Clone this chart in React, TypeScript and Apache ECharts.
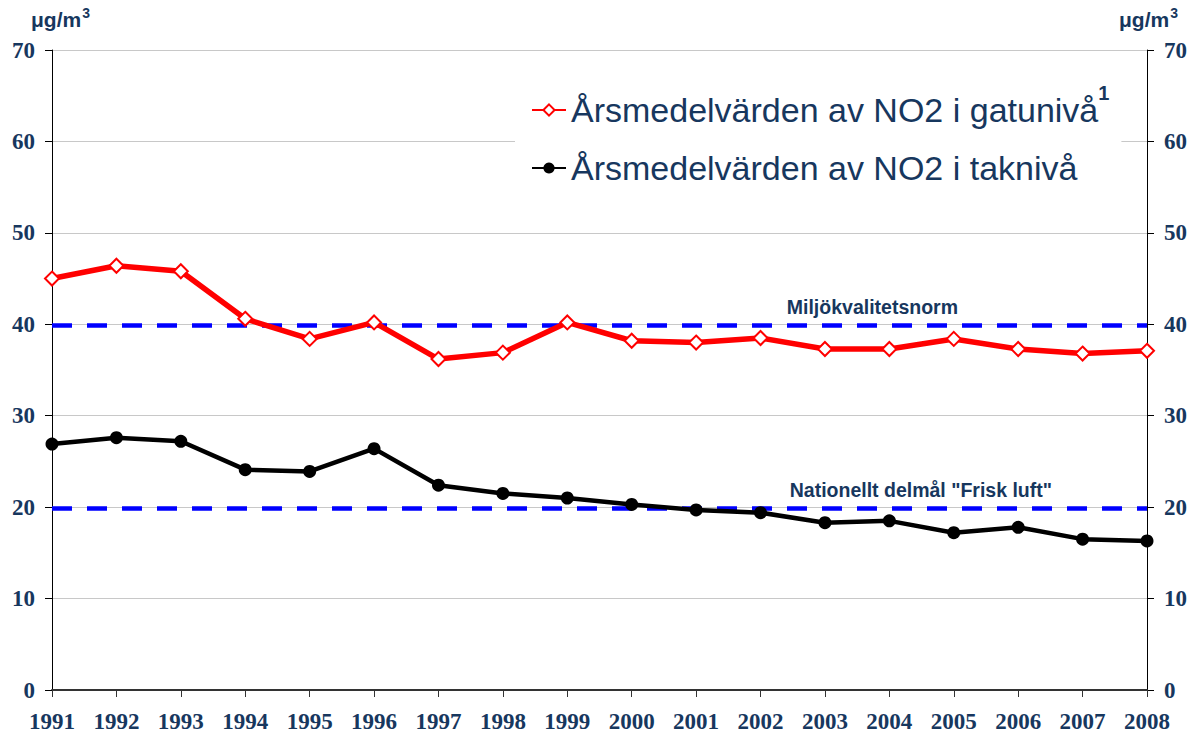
import React, { useEffect, useRef } from "react";
import * as echarts from "echarts";

const years = ["1991","1992","1993","1994","1995","1996","1997","1998","1999","2000","2001","2002","2003","2004","2005","2006","2007","2008"];
const streetLevel = [45.0, 46.4, 45.8, 40.6, 38.4, 40.2, 36.2, 36.9, 40.2, 38.2, 38.0, 38.5, 37.3, 37.3, 38.4, 37.3, 36.8, 37.1];
const roofLevel = [26.9, 27.6, 27.2, 24.1, 23.9, 26.4, 22.4, 21.5, 21.0, 20.3, 19.7, 19.4, 18.3, 18.5, 17.2, 17.8, 16.5, 16.3];
const streetName = "Årsmedelvärden av NO2 i gatunivå";
const roofName = "Årsmedelvärden av NO2 i taknivå";
const normValue = 39.9;
const normLabel = "Miljökvalitetsnorm";
const goalValue = 19.9;
const goalLabel = 'Nationellt delmål "Frisk luft"';
const unitLabel = "μg/m";

const NAVY = "#17375e";

export default function App() {
  const ref = useRef<HTMLDivElement>(null);
  useEffect(() => {
    const chart = echarts.init(ref.current!, undefined, { renderer: "svg" });
    const yAxisBase = {
      type: "value",
      min: 0,
      max: 70,
      interval: 10,
      axisLine: { show: true, lineStyle: { color: "#000", width: 1 } },
      axisTick: { show: true, length: 7, inside: false, lineStyle: { color: "#000" } },
      axisLabel: {
        color: NAVY,
        fontFamily: "Liberation Serif",
        fontWeight: "bold",
        fontSize: 23,
        margin: 17,
      },
    };
    const dashStyle = { color: "#0000ff", width: 4.5, type: [20, 15] as any };
    const mlLabel = {
      show: true,
      position: "insideEndTop",
      color: NAVY,
      fontFamily: "Liberation Sans",
      fontWeight: "bold",
      fontSize: 19.5,
    };
    const unitRich = {
      u: { fontFamily: "Liberation Sans", fontWeight: "bold", fontSize: 21, fill: NAVY },
      s: { fontFamily: "Liberation Sans", fontWeight: "bold", fontSize: 14, fill: NAVY, padding: [0, 0, 13, 1] },
    };
    chart.setOption({
      animation: false,
      backgroundColor: "#fff",
      grid: { left: 52, right: 48, top: 50, bottom: 47, containLabel: false },
      xAxis: {
        type: "category",
        data: years,
        boundaryGap: false,
        axisLine: { lineStyle: { color: "#333", width: 2 } },
        axisTick: { show: true, length: 7, lineStyle: { color: "#333" } },
        axisLabel: {
          color: NAVY,
          fontFamily: "Liberation Serif",
          fontWeight: "bold",
          fontSize: 23,
          margin: 20,
          interval: 0,
        },
      },
      yAxis: [
        {
          ...yAxisBase,
          position: "left",
          splitLine: { show: true, lineStyle: { color: "#c8c8c8", width: 1 } },
        },
        {
          ...yAxisBase,
          position: "right",
          splitLine: { show: false },
        },
      ],
      legend: {
        orient: "vertical",
        left: 515,
        top: 75,
        padding: [8, 12, 14, 16],
        backgroundColor: "#fff",
        itemWidth: 34,
        itemHeight: 14,
        itemGap: 24,
        data: [streetName, roofName],
        formatter: (name: string) =>
          name === streetName ? `{t|${name}}{s|1}` : `{t|${name}}`,
        textStyle: {
          rich: {
            t: {
              fontFamily: "Liberation Sans",
              fontSize: 34,
              color: NAVY,
              lineHeight: 40,
            },
            s: {
              fontFamily: "Liberation Sans",
              fontSize: 20,
              fontWeight: "bold",
              color: NAVY,
              padding: [0, 0, 34, 0],
            },
          },
        },
      },
      series: [
        {
          name: streetName,
          type: "line",
          data: streetLevel,
          yAxisIndex: 0,
          lineStyle: { color: "#ff0000", width: 5.5 },
          itemStyle: { color: "#ff0000", borderColor: "#ff0000", borderWidth: 2 },
          symbol: "emptyDiamond",
          symbolSize: 14,
          z: 3,
          markLine: {
            silent: true,
            symbol: ["none", "none"],
            lineStyle: dashStyle,
            data: [
              { yAxis: normValue, label: { ...mlLabel, formatter: normLabel, padding: [0, 184, 3, 0] } },
              { yAxis: goalValue, label: { ...mlLabel, formatter: goalLabel, padding: [0, 90, 3, 0] } },
            ],
            z: 2,
          },
        },
        {
          name: roofName,
          type: "line",
          data: roofLevel,
          yAxisIndex: 0,
          lineStyle: { color: "#000", width: 4.5 },
          itemStyle: { color: "#000" },
          symbol: "circle",
          symbolSize: 13,
          z: 4,
        },
      ],
      graphic: [
        {
          type: "text",
          left: 31,
          top: 6,
          style: { text: `{u|${unitLabel}}{s|3}`, rich: unitRich },
        },
        {
          type: "text",
          left: 1119,
          top: 6,
          style: { text: `{u|${unitLabel}}{s|3}`, rich: unitRich },
        },
      ],
    });
    return () => chart.dispose();
  }, []);
  return <div ref={ref} style={{ width: 1195, height: 737, position: "absolute", left: 0, top: 0 }} />;
}
